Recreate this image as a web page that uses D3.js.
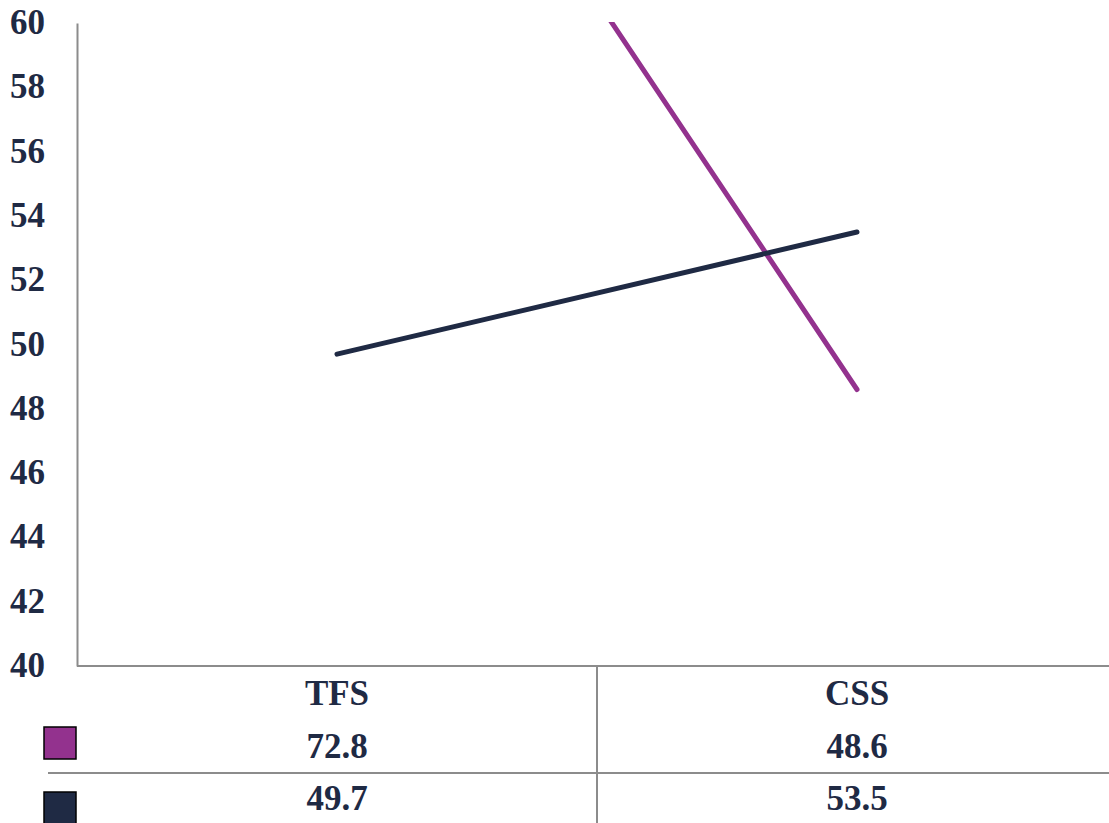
<!DOCTYPE html>
<html>
<head>
<meta charset="utf-8">
<script src="https://cdn.jsdelivr.net/npm/d3@7"></script>
<style>
  html, body { margin: 0; padding: 0; background: #fff; }
  svg { display: block; }
</style>
</head>
<body>
<script>
const categories = ["TFS", "CSS"];
const seriesNames = ["Series 1", "Series 2"];
const seriesColors = ["#93328E", "#1F2A44"];
const series1 = [72.8, 48.6];
const series2 = [49.7, 53.5];
const yTicks = [40, 42, 44, 46, 48, 50, 52, 54, 56, 58, 60];

const W = 1109, H = 823;
const textColor = "#1F2A44";
const gridColor = "#8c8c8c";
const font = "'Liberation Serif', 'Times New Roman', serif";

const svg = d3.select("body").append("svg").attr("width", W).attr("height", H);

const plotLeft = 77, plotRight = 1117, plotTop = 23, plotBottom = 666;
const x = d3.scaleBand().domain(categories).range([plotLeft, plotRight]);
const y = d3.scaleLinear().domain([40, 60]).range([plotBottom, plotTop]);

// clip
svg.append("defs").append("clipPath").attr("id", "plotclip")
  .append("rect").attr("x", plotLeft).attr("y", plotTop - 1)
  .attr("width", plotRight - plotLeft).attr("height", plotBottom - plotTop + 1);

// y axis
const yAxis = d3.axisLeft(y).tickValues(yTicks).tickSize(0).tickPadding(32).tickFormat(d3.format("d"));
const gy = svg.append("g").attr("transform", `translate(${plotLeft},0)`).call(yAxis);
gy.select(".domain").attr("stroke", gridColor).attr("stroke-width", 2);
gy.selectAll("text")
  .attr("fill", textColor)
  .attr("font-family", font)
  .attr("font-weight", "bold")
  .attr("font-size", 35)
  .attr("dy", "0.3em");

// bottom axis line
svg.append("line")
  .attr("x1", plotLeft).attr("x2", W)
  .attr("y1", plotBottom).attr("y2", plotBottom)
  .attr("stroke", gridColor).attr("stroke-width", 2);

// lines
const line = d3.line().x((d, i) => x(categories[i]) + x.bandwidth() / 2).y(d => y(d));
const allSeries = [series1, series2];
const gLines = svg.append("g").attr("clip-path", "url(#plotclip)");
allSeries.forEach((s, i) => {
  gLines.append("path")
    .datum(s)
    .attr("d", line)
    .attr("fill", "none")
    .attr("stroke", seriesColors[i])
    .attr("stroke-width", 5)
    .attr("stroke-linecap", "round");
});

// data table
const divX = x(categories[1]);
svg.append("line")
  .attr("x1", divX).attr("x2", divX)
  .attr("y1", plotBottom).attr("y2", H)
  .attr("stroke", gridColor).attr("stroke-width", 2);

const rowLineY = 773;
svg.append("line")
  .attr("x1", 48).attr("x2", W)
  .attr("y1", rowLineY).attr("y2", rowLineY)
  .attr("stroke", gridColor).attr("stroke-width", 2);

const textStyle = sel => sel
  .attr("fill", textColor)
  .attr("font-family", font)
  .attr("font-weight", "bold")
  .attr("font-size", 35)
  .attr("text-anchor", "middle");

categories.forEach(c => {
  svg.append("text")
    .attr("x", x(c) + x.bandwidth() / 2)
    .attr("y", 705)
    .text(c)
    .call(textStyle);
});

const rowBaselines = [758, 810];
const squareTops = [727, 792];
allSeries.forEach((s, i) => {
  svg.append("rect")
    .attr("x", 44).attr("y", squareTops[i])
    .attr("width", 32).attr("height", 32)
    .attr("fill", seriesColors[i])
    .attr("stroke", "#000").attr("stroke-width", 1.5);
  s.forEach((v, j) => {
    svg.append("text")
      .attr("x", x(categories[j]) + x.bandwidth() / 2)
      .attr("y", rowBaselines[i])
      .text(d3.format(".1f")(v))
      .call(textStyle);
  });
});
</script>
</body>
</html>
